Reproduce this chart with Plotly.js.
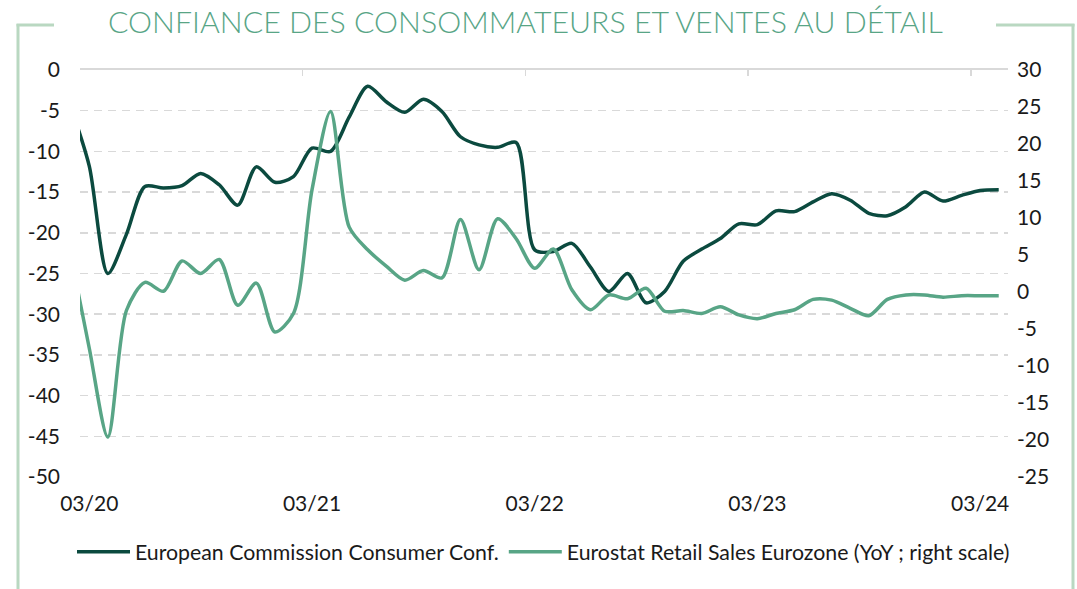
<!DOCTYPE html>
<html>
<head>
<meta charset="utf-8">
<script src="https://cdn.plot.ly/plotly-3.0.1.min.js"></script>
<style>html,body{margin:0;padding:0;background:#fff;}#chart{width:1077px;height:589px;}</style>
</head>
<body>
<div id="chart"></div>
<script>
// Months from 02/2020 to 04/2024
const months = [
  '2020-02','2020-03','2020-04','2020-05','2020-06','2020-07','2020-08','2020-09','2020-10','2020-11','2020-12',
  '2021-01','2021-02','2021-03','2021-04','2021-05','2021-06','2021-07','2021-08','2021-09','2021-10','2021-11','2021-12',
  '2022-01','2022-02','2022-03','2022-04','2022-05','2022-06','2022-07','2022-08','2022-09','2022-10','2022-11','2022-12',
  '2023-01','2023-02','2023-03','2023-04','2023-05','2023-06','2023-07','2023-08','2023-09','2023-10','2023-11','2023-12',
  '2024-01','2024-02','2024-03','2024-04'
];
const consumerConf = [
  -4.5, -11.8, -25.0, -20.2, -14.3, -14.5, -14.2, -12.7, -14.1, -16.6, -11.9,
  -13.8, -13.1, -9.6, -10.0, -5.8, -2.0, -3.9, -5.2, -3.6, -5.1, -8.2, -9.2,
  -9.5, -8.9, -22.1, -22.3, -21.3, -24.2, -27.2, -25.0, -28.6, -27.2, -23.5, -22.0,
  -20.7, -18.9, -19.0, -17.3, -17.4, -16.2, -15.2, -16.0, -17.6, -17.9, -16.8, -15.0,
  -16.1, -15.4, -14.8, -14.7
];
const retailSales = [
  5.0, -7.6, -19.6, -2.5, 1.3, 0.1, 4.2, 2.5, 4.4, -1.8, 1.2,
  -5.4, -2.9, 13.8, 24.4, 8.8, 5.7, 3.5, 1.6, 2.9, 1.9, 9.8, 3.0,
  9.9, 7.2, 3.2, 5.8, 0.3, -2.4, -0.4, -0.9, 0.5, -2.6, -2.5, -2.9,
  -2.0, -3.1, -3.6, -2.9, -2.4, -1.0, -1.1, -2.2, -3.2, -1.0, -0.4, -0.4,
  -0.7, -0.5, -0.5, -0.5
];
const xLabelMonths = ['2020-03','2021-03','2022-03','2023-03','2024-03'];
const xLabels = ['03/20','03/21','03/22','03/23','03/24'];
const leftTicks = [0,-5,-10,-15,-20,-25,-30,-35,-40,-45,-50];
const leftTickText = ['0','-5','-10','-15','-20','-25','-30','-35','-40','-45','-50'];
const rightTicks = [30,25,20,15,10,5,0,-5,-10,-15,-20,-25];
const rightTickText = ['30','25','20','15','10','5','0','-5','-10','-15','-20','-25'];

const base = months.indexOf('2020-03');
const xs = months.map((m, i) => i - base);
const labelPos = xLabelMonths.map(m => months.indexOf(m) - base);
const boundaryPos = labelPos.map(v => v - 0.5);

const DARK = '#0b4a3f';
const GREEN = '#58a586';
const FRAME = '#b9d8c1';
const FONT = 'Lato, "Open Sans", sans-serif';

const traces = [
  {x: xs, y: consumerConf, type: 'scatter', mode: 'lines', name: 'European Commission Consumer Conf.',
   line: {color: DARK, width: 3.5, shape: 'spline', smoothing: 0.8}, yaxis: 'y', hoverinfo: 'skip'},
  {x: xs, y: retailSales, type: 'scatter', mode: 'lines', name: 'Eurostat Retail Sales Eurozone (YoY ; right scale)',
   line: {color: GREEN, width: 3.5, shape: 'spline', smoothing: 0.8}, yaxis: 'y2', hoverinfo: 'skip'},
  {x: [xs[0]], y: [null], xaxis: 'x2', yaxis: 'y', showlegend: false, hoverinfo: 'skip', type: 'scatter', mode: 'lines'}
];

// pixel helpers (plot area: x 80..1008, y 70..477)
const px = v => (v - 80) / 928;
const py = v => (477 - v) / 407;

const layout = {
  width: 1077, height: 589,
  margin: {l: 80, r: 69, t: 70, b: 112, autoexpand: false},
  paper_bgcolor: '#ffffff', plot_bgcolor: '#ffffff',
  showlegend: true,
  font: {family: FONT, size: 21, color: '#1a1a1a'},
  title: {text: 'CONFIANCE DES CONSOMMATEURS ET VENTES AU DÉTAIL',
    font: {family: FONT, size: 30.3, weight: 300, color: GREEN},
    x: 0.480, xanchor: 'center', y: 0.962, yanchor: 'middle', xref: 'paper', yref: 'container'},
  xaxis: {range: [-0.5, 49.5], tickvals: labelPos, ticktext: xLabels, ticks: '', showgrid: false,
    zeroline: false, showline: false, ticklabelstandoff: 12, tickfont: {family: FONT, size: 21, color: '#1a1a1a'}},
  xaxis2: {overlaying: 'x', matches: 'x', side: 'top', range: [-0.5, 49.5], tickvals: boundaryPos,
    showticklabels: false, ticks: 'inside', ticklen: 6, tickwidth: 1.5, tickcolor: '#d9d9d9',
    showline: true, linecolor: '#d9d9d9', linewidth: 2, showgrid: false, zeroline: false},
  yaxis: {range: [-50, 0], tickvals: leftTicks, ticktext: leftTickText, ticks: '', showline: false,
    zeroline: false, showgrid: true, gridcolor: '#d9d9d9', gridwidth: 1.5, griddash: '8px,6px',
    ticklabelstandoff: 19, tickfont: {family: FONT, size: 21, color: '#1a1a1a'}},
  yaxis2: {range: [-25, 30], overlaying: 'y', side: 'right', tickvals: rightTicks, ticktext: rightTickText,
    ticks: '', showline: false, zeroline: false, showgrid: false, ticklabelstandoff: 8,
    tickfont: {family: FONT, size: 21, color: '#1a1a1a'}},
  legend: {orientation: 'h', x: px(72), xanchor: 'left', y: py(552), yanchor: 'middle',
    font: {family: FONT, size: 21.3, color: '#1a1a1a'}, bgcolor: 'rgba(0,0,0,0)', itemwidth: 53, tracegroupgap: 0},
  shapes: [
    {type: 'line', xref: 'paper', yref: 'paper', x0: px(18), x1: px(18), y0: py(24), y1: py(600), line: {color: FRAME, width: 3}},
    {type: 'line', xref: 'paper', yref: 'paper', x0: px(1073), x1: px(1073), y0: py(24), y1: py(600), line: {color: FRAME, width: 3}},
    {type: 'line', xref: 'paper', yref: 'paper', x0: px(16.5), x1: px(54), y0: py(25), y1: py(25), line: {color: FRAME, width: 3}},
    {type: 'line', xref: 'paper', yref: 'paper', x0: px(996), x1: px(1074.5), y0: py(25), y1: py(25), line: {color: FRAME, width: 3}}
  ]
};

Plotly.newPlot('chart', traces, layout, {staticPlot: true, displayModeBar: false});
</script>
</body>
</html>
